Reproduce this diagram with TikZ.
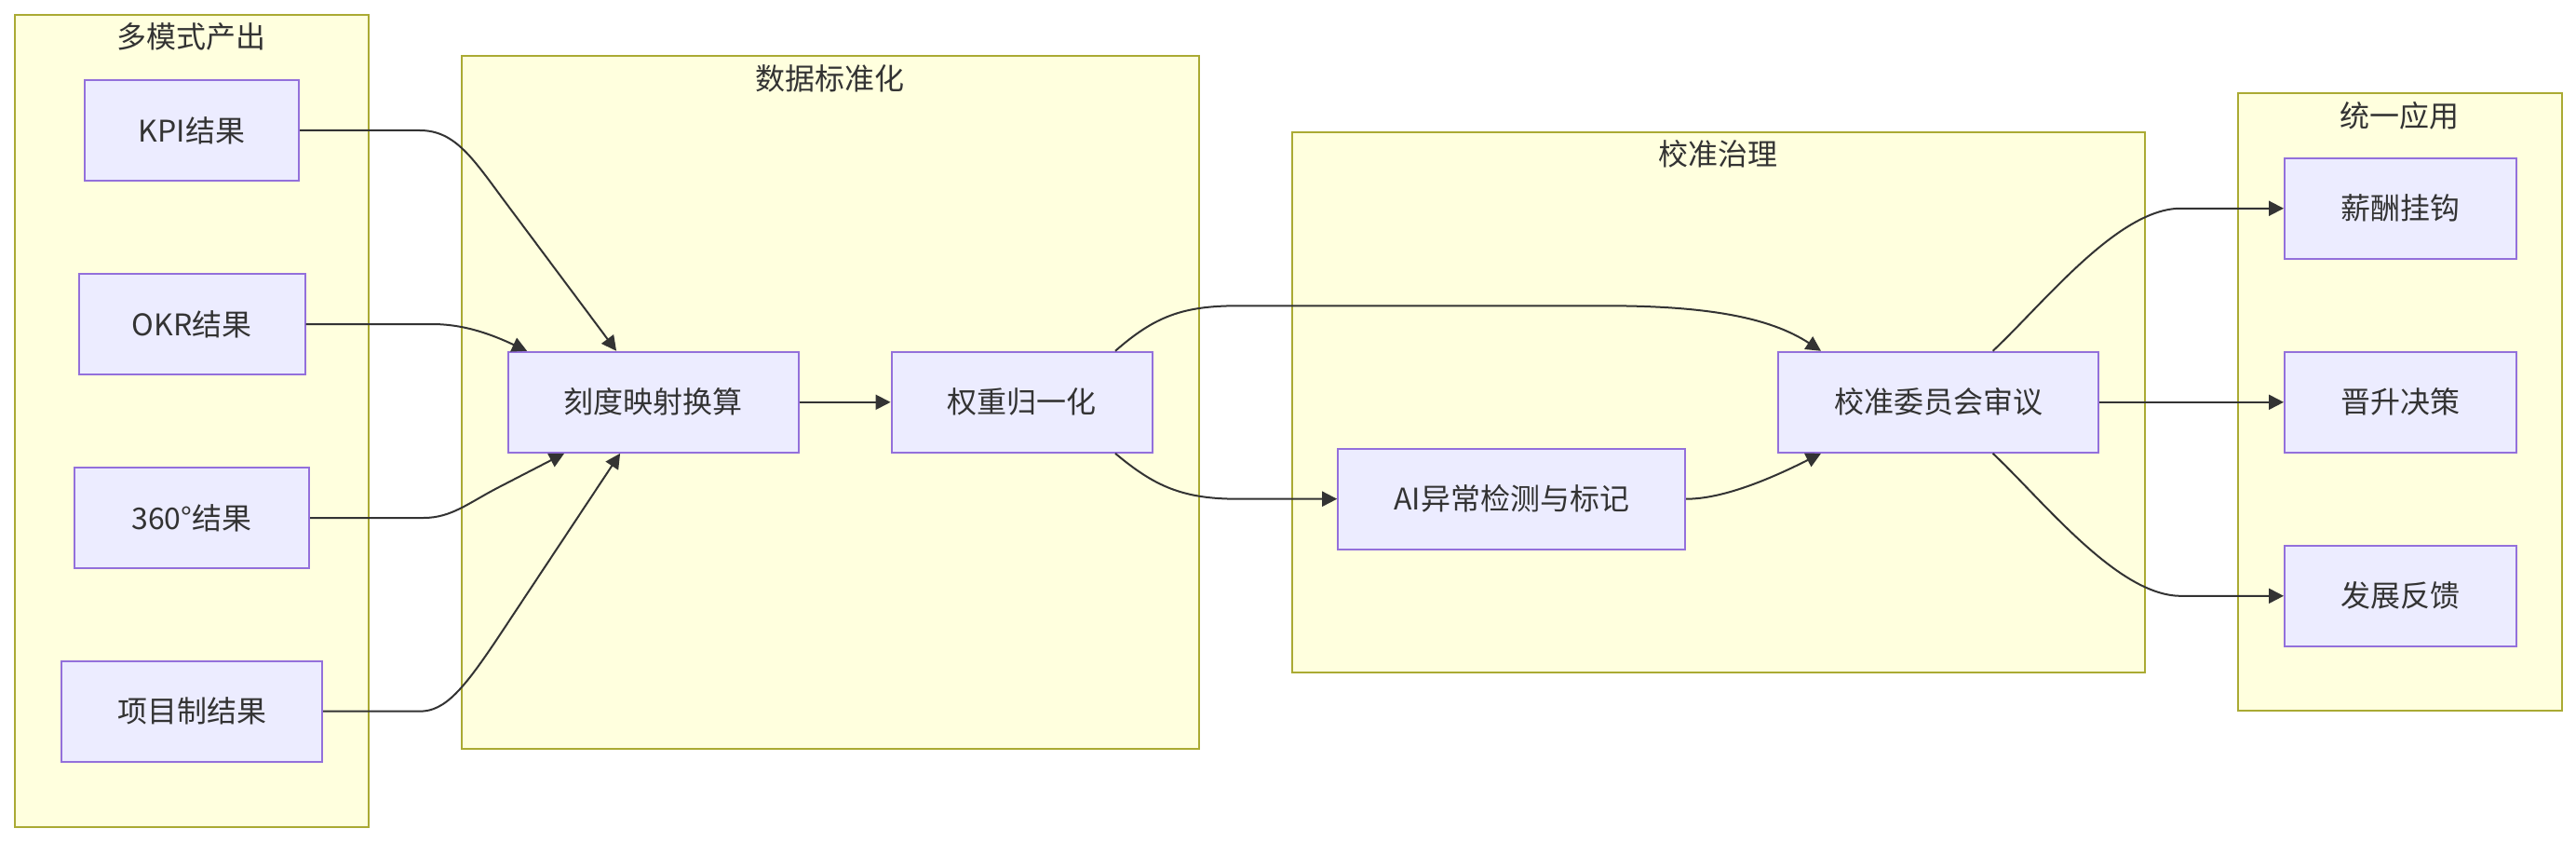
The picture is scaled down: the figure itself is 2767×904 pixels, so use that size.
\documentclass[tikz,border=0pt]{standalone}
\usepackage{fontspec}
\setmainfont{Noto Sans CJK SC}
\usetikzlibrary{arrows.meta,calc}
\definecolor{cfill}{HTML}{FFFFDE}
\definecolor{cline}{HTML}{AAAA33}
\definecolor{nfill}{HTML}{ECECFF}
\definecolor{nline}{HTML}{9370DB}
\definecolor{ink}{HTML}{333333}
\begin{document}
\begin{tikzpicture}[x=0.5pt,y=-0.5pt,
  cluster/.style={draw=cline, fill=cfill, line width=1pt, inner sep=0pt, rectangle},
  ctitle/.style={text=ink, font=\fontsize{16pt}{19pt}\selectfont, inner sep=0pt},
  box/.style={draw=nline, fill=nfill, line width=1pt, minimum height=54pt, inner sep=0pt, text=ink, font=\fontsize{16pt}{19pt}\selectfont},
  edge/.style={draw=ink, line width=1pt, -{Triangle[length=8pt,width=8pt]}}]
\useasboundingbox (0,0) rectangle (2767,904);
\fill[white] (0,0) rectangle (2767,904);
% clusters
\node[cluster, minimum width=190.2pt, minimum height=436pt] (c1) at (205.8,451.7) {};
\node[cluster, minimum width=395.8pt, minimum height=371.85pt] (c2) at (891.8,431.85) {};
\node[cluster, minimum width=458.4pt, minimum height=290.15pt] (c3) at (1845.9,431.85) {};
\node[cluster, minimum width=174.1pt, minimum height=331.5pt] (c4) at (2577.9,431.5) {};
\node[ctitle] (t1) at ($(c1.north)+(0,25)$) {多模式产出};
\node[ctitle] (t2) at ($(c2.north)+(0,25)$) {数据标准化};
\node[ctitle] (t3) at ($(c3.north)+(0,25)$) {校准治理};
\node[ctitle] (t4) at ($(c4.north)+(0,25)$) {统一应用};
% nodes
\node[box, minimum width=115pt] (kpi) at (206,140) {KPI结果};
\node[box, minimum width=121.5pt] (okr) at (206,348) {OKR结果};
\node[box, minimum width=126pt] (r360) at (206,556) {360°结果};
\node[box, minimum width=140pt] (proj) at (206,763.7) {项目制结果};
\node[box, minimum width=156pt] (map) at (701.7,431.8) {刻度映射换算};
\node[box, minimum width=140pt] (weight) at (1097.6,431.8) {权重归一化};
\node[box, minimum width=186.5pt] (ai) at (1623.7,535.7) {AI异常检测与标记};
\node[box, minimum width=172pt] (comm) at (2082,431.8) {校准委员会审议};
\node[box, minimum width=124.3pt] (salary) at (2578.3,223.75) {薪酬挂钩};
\node[box, minimum width=124.3pt] (promo) at (2578.3,431.8) {晋升决策};
\node[box, minimum width=124.3pt] (fb) at (2578.3,639.8) {发展反馈};
% edges
\draw[edge] (kpi.east) -- (451,140) .. controls (490,140) and (509,172) .. (545,220) -- ($(map.north west)+(117.4,0)$);
\draw[edge] (okr.east) -- (464,348) .. controls (500,348) and (530,360) .. ($(map.north west)+(21.4,0)$);
\draw[edge] (r360.east) -- (455,556) .. controls (485,556) and (503,540) .. (536,523) -- ($(map.south west)+(61.4,0)$);
\draw[edge] (proj.east) -- (451,763.7) .. controls (478,763.7) and (498,740) .. (536,683) -- ($(map.south west)+(121.4,0)$);
\draw[edge] (map.east) -- (weight.west);
\draw[edge] ($(weight.north)+(100.4,0)$) .. controls (1240,340) and (1270,328.3) .. (1330,328.3) -- (1724,328.3) .. controls (1830,328.3) and (1900,340) .. ($(comm.north west)+(47,0)$);
\draw[edge] ($(weight.south)+(100.4,0)$) .. controls (1240,522) and (1270,535.7) .. (1330,535.7) -- (ai.west);
\draw[edge] (ai.east) .. controls (1850,535.7) and (1900,515) .. ($(comm.south west)+(47,0)$);
\draw[edge] ($(comm.north)+(58.6,0)$) .. controls (2195,326) and (2275,223.75) .. (2342.5,223.75) -- (salary.west);
\draw[edge] (comm.east) -- (promo.west);
\draw[edge] ($(comm.south)+(58.6,0)$) .. controls (2195,538) and (2275,639.8) .. (2342.5,639.8) -- (fb.west);
\end{tikzpicture}
\end{document}
